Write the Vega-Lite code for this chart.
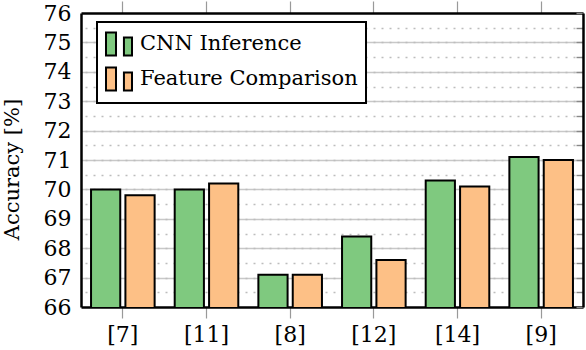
{
  "$schema": "https://vega.github.io/schema/vega-lite/v6.json",
  "width": 502,
  "height": 294,
  "autosize": {"type": "none"},
  "padding": {"left": 81, "top": 13, "right": 3, "bottom": 43},
  "background": "white",
  "config": {
    "view": {"stroke": null},
    "font": "DejaVu Serif"
  },
  "data": {
    "values": [
      {"ref": "[7]", "method": "CNN Inference", "value": 70.0},
      {"ref": "[7]", "method": "Feature Comparison", "value": 69.8},
      {"ref": "[11]", "method": "CNN Inference", "value": 70.0},
      {"ref": "[11]", "method": "Feature Comparison", "value": 70.2},
      {"ref": "[8]", "method": "CNN Inference", "value": 67.1},
      {"ref": "[8]", "method": "Feature Comparison", "value": 67.1},
      {"ref": "[12]", "method": "CNN Inference", "value": 68.4},
      {"ref": "[12]", "method": "Feature Comparison", "value": 67.6},
      {"ref": "[14]", "method": "CNN Inference", "value": 70.3},
      {"ref": "[14]", "method": "Feature Comparison", "value": 70.1},
      {"ref": "[9]", "method": "CNN Inference", "value": 71.1},
      {"ref": "[9]", "method": "Feature Comparison", "value": 71.0}
    ]
  },
  "resolve": {"axis": {"x": "independent", "y": "independent"}},
  "layer": [
    {
      "mark": {"type": "bar", "stroke": "black", "strokeWidth": 2, "clip": true},
      "encoding": {
        "x": {
          "field": "ref", "type": "nominal", "sort": null,
          "scale": {"paddingInner": 0.24, "paddingOuter": 0.12},
          "axis": {
            "orient": "bottom", "title": null, "labelAngle": 0,
            "labelFont": "DejaVu Serif", "labelColor": "black",
            "labelFontSize": 22, "labelPadding": 6,
            "ticks": true, "tickSize": 11, "tickColor": "#999999", "tickWidth": 1.2,
            "domain": true, "domainColor": "black", "domainWidth": 2.5,
            "grid": false
          }
        },
        "xOffset": {
          "field": "method", "type": "nominal",
          "sort": ["CNN Inference", "Feature Comparison"],
          "scale": {"paddingInner": 0.15, "paddingOuter": 0}
        },
        "y": {
          "field": "value", "type": "quantitative",
          "scale": {"domain": [66, 76], "zero": false, "nice": false},
          "axis": {
            "orient": "left", "title": "Accuracy [%]",
            "labelFont": "DejaVu Serif", "titleFont": "DejaVu Serif",
            "labelColor": "black", "titleColor": "black",
            "titleFontSize": 21, "titleFontWeight": "normal",
            "titleX": -69, "titleY": 156, "titleBaseline": "middle",
            "values": [66, 67, 68, 69, 70, 71, 72, 73, 74, 75, 76],
            "labelFontSize": 22, "labelPadding": 10, "labelBaseline": "middle",
            "ticks": false,
            "domain": true, "domainColor": "black", "domainWidth": 2.5,
            "grid": true, "gridColor": "#c8c8c8", "gridWidth": 1.6,
            "gridOpacity": {"condition": {"test": "datum.value == 66 || datum.value == 76", "value": 0}, "value": 1}
          }
        },
        "color": {
          "field": "method", "type": "nominal",
          "scale": {"domain": ["CNN Inference", "Feature Comparison"], "range": ["#7fc97f", "#fdc086"]},
          "legend": {
            "title": null, "orient": "none", "legendX": 16, "legendY": 9,
            "symbolType": "M-1,-0.88H-0.23V0.88H-1Z M0.38,-0.5H1V0.88H0.38Z",
            "symbolSize": 676, "symbolStrokeColor": "black", "symbolStrokeWidth": 2,
            "symbolOpacity": 1,
            "labelFont": "DejaVu Serif",
            "labelFontSize": 21, "labelColor": "black", "labelOffset": 7, "labelLimit": 400,
            "rowPadding": 3, "padding": 8,
            "strokeColor": "black", "fillColor": "white", "cornerRadius": 0,
            "encode": {"legend": {"update": {"strokeWidth": {"value": 2}}}}
          }
        }
      }
    },
    {
      "mark": {"type": "bar", "opacity": 0},
      "encoding": {
        "x": {
          "field": "ref", "type": "nominal", "sort": null,
          "axis": {
            "orient": "top", "title": null, "labels": false,
            "ticks": true, "tickSize": 12, "tickColor": "#999999", "tickWidth": 1.2,
            "domain": true, "domainColor": "black", "domainWidth": 2.5,
            "grid": false
          }
        },
        "y": {
          "field": "value", "type": "quantitative",
          "axis": {
            "orient": "right", "title": null, "labels": false,
            "values": [66, 66.5, 67, 67.5, 68, 68.5, 69, 69.5, 70, 70.5, 71, 71.5, 72, 72.5, 73, 73.5, 74, 74.5, 75, 75.5, 76],
            "ticks": true, "tickSize": -7, "tickColor": "#888888", "tickWidth": 1.4,
            "domain": true, "domainColor": "black", "domainWidth": 2.5,
            "grid": true, "gridColor": "#bdbdbd", "gridWidth": 1.6, "gridDash": [2, 6],
            "gridOpacity": {"condition": {"test": "datum.value == 66 || datum.value == 76", "value": 0}, "value": 1}
          }
        }
      }
    }
  ]
}
